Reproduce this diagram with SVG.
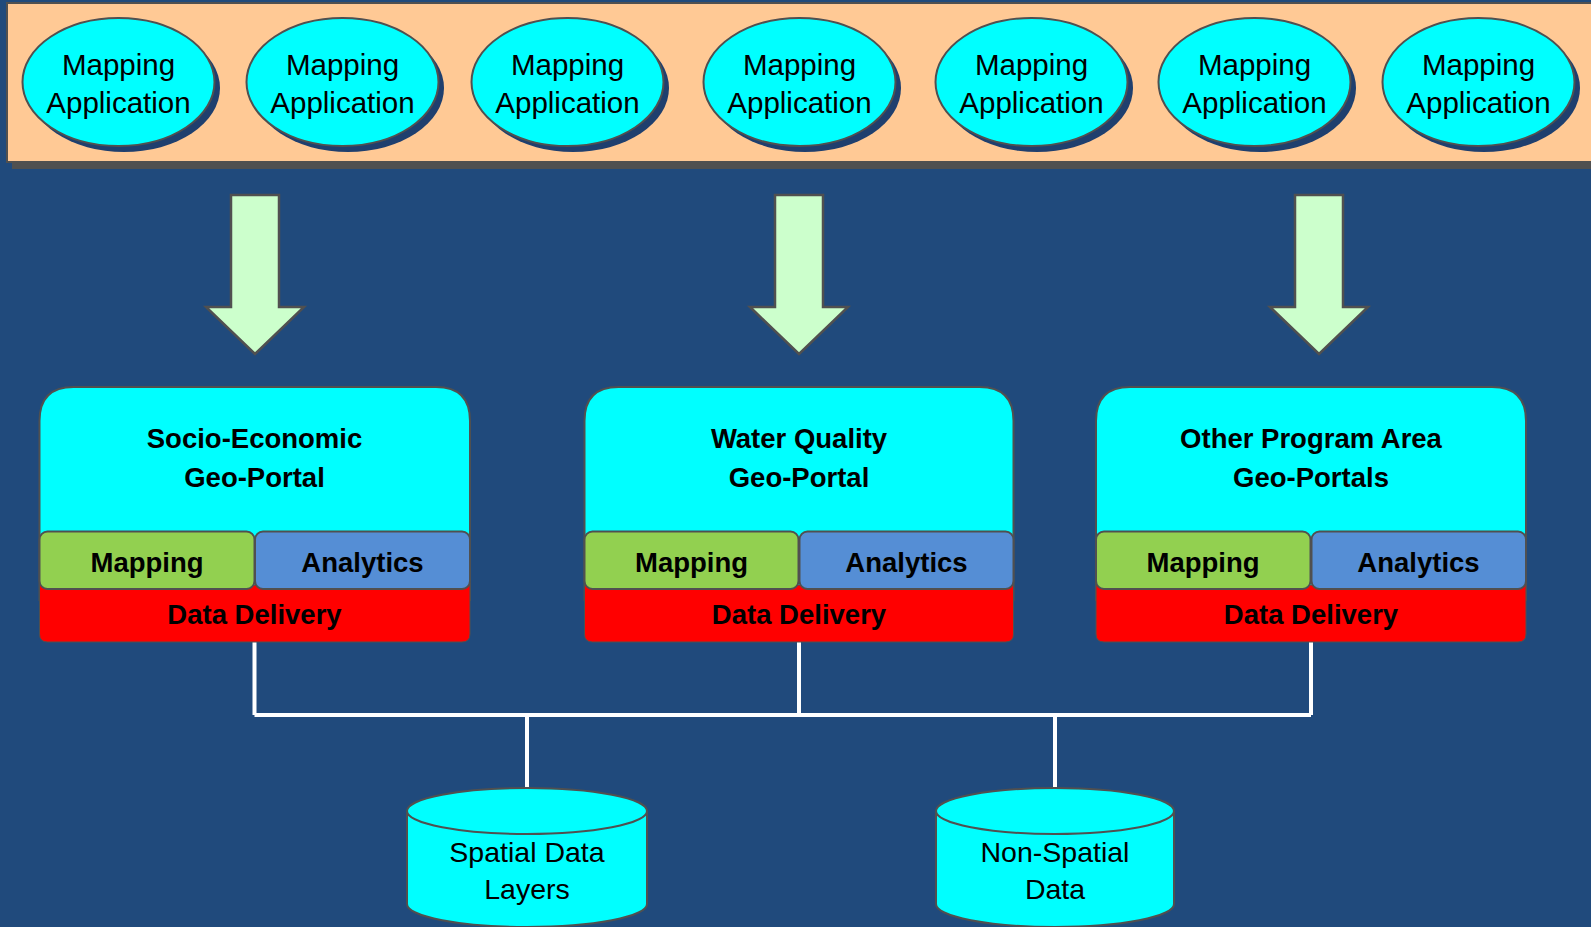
<svg xmlns="http://www.w3.org/2000/svg" width="1591" height="927" viewBox="0 0 1591 927">
<defs>
<style>
.app{fill:#00FFFF;stroke:#505050;stroke-width:2}
.appsh{fill:#1F3F6E}
.t{font-family:"Liberation Sans",Arial,sans-serif;fill:#000;text-anchor:middle}
.r{font-size:29.5px}
.rc{font-size:28.5px}
.b{font-size:27.5px;font-weight:bold}
.arrow{fill:#CCFFCC;stroke:#505050;stroke-width:2.5}
.cyan{fill:#00FFFF;stroke:#505050;stroke-width:2}
.map{fill:#92D050;stroke:#505050;stroke-width:2}
.ana{fill:#558ED5;stroke:#505050;stroke-width:2}
.dd{fill:#FF0000;stroke:#505050;stroke-width:1}
.con{stroke:#FFFFFF;stroke-width:4;fill:none}
</style>
</defs>
<rect x="0" y="0" width="1591" height="927" fill="#204A7C"/>
<g id="band">
<rect x="12" y="10" width="1590" height="159" fill="#505050"/>
<rect x="7" y="3" width="1590" height="159" fill="#FFC995" stroke="#505050" stroke-width="2"/>
</g>
<g id="app1"><ellipse class="appsh" cx="124" cy="88" rx="96" ry="64"/><ellipse class="app" cx="118.5" cy="82" rx="96" ry="64"/><text class="t r" x="118.5" y="75">Mapping</text><text class="t r" x="118.5" y="112.5">Application</text></g>
<g id="app2"><ellipse class="appsh" cx="348" cy="88" rx="96" ry="64"/><ellipse class="app" cx="342.5" cy="82" rx="96" ry="64"/><text class="t r" x="342.5" y="75">Mapping</text><text class="t r" x="342.5" y="112.5">Application</text></g>
<g id="app3"><ellipse class="appsh" cx="573" cy="88" rx="96" ry="64"/><ellipse class="app" cx="567.5" cy="82" rx="96" ry="64"/><text class="t r" x="567.5" y="75">Mapping</text><text class="t r" x="567.5" y="112.5">Application</text></g>
<g id="app4"><ellipse class="appsh" cx="805" cy="88" rx="96" ry="64"/><ellipse class="app" cx="799.5" cy="82" rx="96" ry="64"/><text class="t r" x="799.5" y="75">Mapping</text><text class="t r" x="799.5" y="112.5">Application</text></g>
<g id="app5"><ellipse class="appsh" cx="1037" cy="88" rx="96" ry="64"/><ellipse class="app" cx="1031.5" cy="82" rx="96" ry="64"/><text class="t r" x="1031.5" y="75">Mapping</text><text class="t r" x="1031.5" y="112.5">Application</text></g>
<g id="app6"><ellipse class="appsh" cx="1260" cy="88" rx="96" ry="64"/><ellipse class="app" cx="1254.5" cy="82" rx="96" ry="64"/><text class="t r" x="1254.5" y="75">Mapping</text><text class="t r" x="1254.5" y="112.5">Application</text></g>
<g id="app7"><ellipse class="appsh" cx="1484" cy="88" rx="96" ry="64"/><ellipse class="app" cx="1478.5" cy="82" rx="96" ry="64"/><text class="t r" x="1478.5" y="75">Mapping</text><text class="t r" x="1478.5" y="112.5">Application</text></g>
<g id="arrow1"><path class="arrow" d="M231,195 H279 V307 H304 L255,354 L206,307 H231 Z"/></g>
<g id="arrow2"><path class="arrow" d="M775,195 H823 V307 H848 L799,354 L750,307 H775 Z"/></g>
<g id="arrow3"><path class="arrow" d="M1295,195 H1343 V307 H1368 L1319,354 L1270,307 H1295 Z"/></g>
<g id="connectors">
<path class="con" d="M254.5,642 V715 M799,642 V715 M1311,642 V715 M254.5,715 H1311 M527,715 V788 M1055,715 V788"/>
</g>
<g id="portal1">
<path class="cyan" d="M39.5,421 Q39.5,387 73.5,387 H436 Q470,387 470,421 V600 H39.5 Z"/>
<path class="dd" d="M39.5,585 H470 V634 Q470,642 462,642 H47.5 Q39.5,642 39.5,634 Z"/>
<rect class="map" x="39.5" y="531.5" width="215" height="57.5" rx="8"/>
<rect class="ana" x="255" y="531.5" width="215" height="57.5" rx="8"/>
<text class="t b" x="254.5" y="448">Socio-Economic</text>
<text class="t b" x="254.5" y="487">Geo-Portal</text>
<text class="t b" x="147" y="572">Mapping</text>
<text class="t b" x="362.5" y="572">Analytics</text>
<text class="t b" x="254.5" y="624">Data Delivery</text>
</g>
<g id="portal2">
<path class="cyan" d="M584.5,421 Q584.5,387 618.5,387 H979.5 Q1013.5,387 1013.5,421 V600 H584.5 Z"/>
<path class="dd" d="M584.5,585 H1013.5 V634 Q1013.5,642 1005.5,642 H592.5 Q584.5,642 584.5,634 Z"/>
<rect class="map" x="584.5" y="531.5" width="214" height="57.5" rx="8"/>
<rect class="ana" x="799.5" y="531.5" width="214" height="57.5" rx="8"/>
<text class="t b" x="799" y="448">Water Quality</text>
<text class="t b" x="799" y="487">Geo-Portal</text>
<text class="t b" x="691.5" y="572">Mapping</text>
<text class="t b" x="906.5" y="572">Analytics</text>
<text class="t b" x="799" y="624">Data Delivery</text>
</g>
<g id="portal3">
<path class="cyan" d="M1096,421 Q1096,387 1130,387 H1492 Q1526,387 1526,421 V600 H1096 Z"/>
<path class="dd" d="M1096,585 H1526 V634 Q1526,642 1518,642 H1104 Q1096,642 1096,634 Z"/>
<rect class="map" x="1096" y="531.5" width="214.5" height="57.5" rx="8"/>
<rect class="ana" x="1311.5" y="531.5" width="214.5" height="57.5" rx="8"/>
<text class="t b" x="1311" y="448">Other Program Area</text>
<text class="t b" x="1311" y="487">Geo-Portals</text>
<text class="t b" x="1203" y="572">Mapping</text>
<text class="t b" x="1418.5" y="572">Analytics</text>
<text class="t b" x="1311" y="624">Data Delivery</text>
</g>
<g id="db1">
<path class="cyan" d="M407,811 V904 A120,23 0 0 0 647,904 V811"/>
<ellipse class="cyan" cx="527" cy="811" rx="120" ry="23"/>
<text class="t rc" x="527" y="862">Spatial Data</text>
<text class="t rc" x="527" y="899">Layers</text>
</g>
<g id="db2">
<path class="cyan" d="M936,811 V904 A119,23 0 0 0 1174,904 V811"/>
<ellipse class="cyan" cx="1055" cy="811" rx="119" ry="23"/>
<text class="t rc" x="1055" y="862">Non-Spatial</text>
<text class="t rc" x="1055" y="899">Data</text>
</g>
</svg>
